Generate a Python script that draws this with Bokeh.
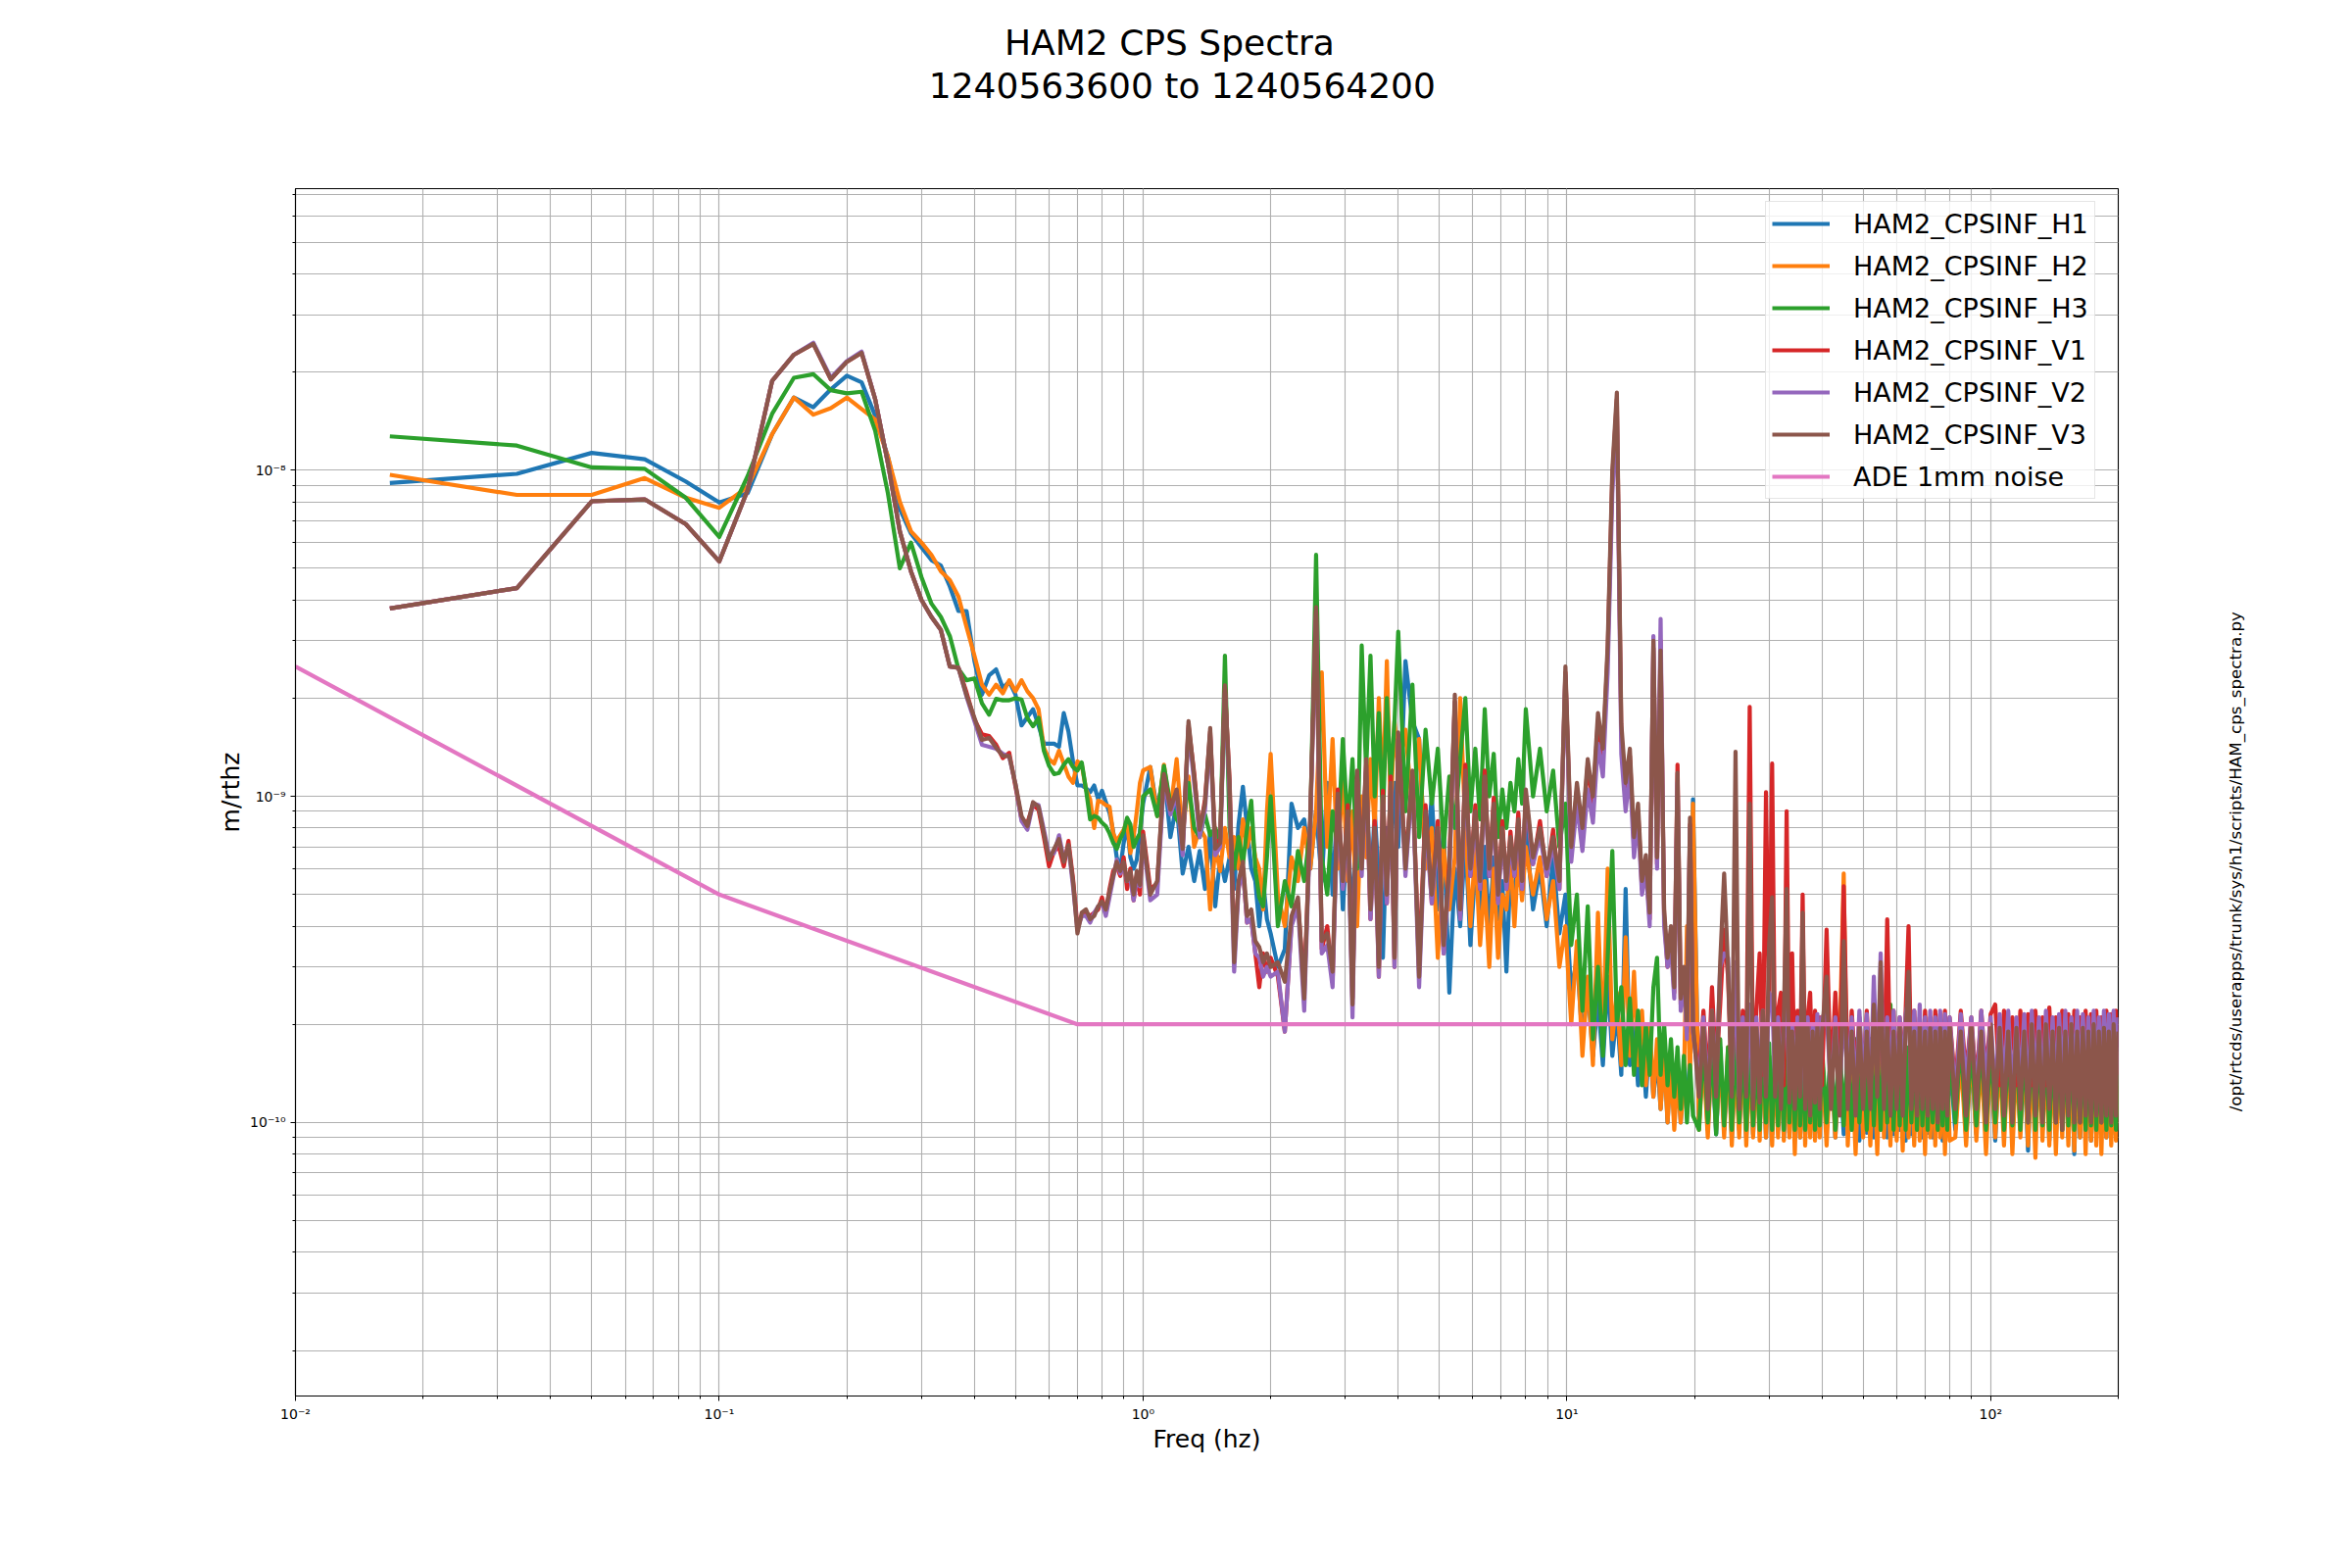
import numpy as np
from bokeh.plotting import figure
from bokeh.models import (Range1d, LogTicker, FixedTicker, CustomJSTickFormatter,
                          LinearAxis, Legend, LegendItem)
from bokeh.embed import file_html
from bokeh.resources import INLINE

# ---------------------------------------------------------------- data
# spectral values are given in units of 1e-10 m/rthz
UNIT = 1e-10

FREQ_LOW = [
    0.0167, 0.0333, 0.05, 0.0667, 0.0833, 0.1, 0.1167, 0.1333, 0.15, 0.1667,
    0.1833, 0.2, 0.2167, 0.2333, 0.25, 0.2667, 0.2833, 0.3, 0.3167, 0.3333,
    0.35, 0.3667, 0.3833, 0.4, 0.4167, 0.4333, 0.45, 0.4667, 0.4833, 0.5,
    0.5167, 0.5333, 0.55, 0.5667, 0.5833, 0.6, 0.6167, 0.6333, 0.65, 0.6667,
    0.6833, 0.7, 0.7167, 0.7333, 0.75, 0.7667, 0.7833, 0.8, 0.8167, 0.8333,
    0.85, 0.8667, 0.8833, 0.9, 0.9167, 0.9333, 0.95, 0.9667, 0.9833, 1.0]

FREQ_MID = [
    1.04, 1.08, 1.12, 1.16, 1.2, 1.24, 1.28, 1.32, 1.36, 1.4, 1.44, 1.48, 1.52,
    1.56, 1.6, 1.64, 1.68, 1.72, 1.76, 1.8, 1.84, 1.88, 1.92, 1.96, 2.0,
    2.08, 2.16, 2.24, 2.32, 2.4, 2.48, 2.56, 2.64, 2.72, 2.8, 2.88, 2.96, 3.04,
    3.12, 3.2, 3.28, 3.36, 3.44, 3.52, 3.6, 3.68, 3.76, 3.84, 3.92, 4.0,
    4.16, 4.32, 4.48, 4.64, 4.8, 4.96, 5.12, 5.28, 5.44, 5.6, 5.76, 5.92, 6.08,
    6.24, 6.4, 6.56, 6.72, 6.88, 7.04, 7.2, 7.36, 7.52, 7.68, 7.84, 8.0,
    8.32, 8.64, 8.96, 9.28, 9.6, 9.92, 10.24, 10.56, 10.88, 11.2, 11.52, 11.84,
    12.16, 12.48, 12.8, 13.12, 13.44, 13.76, 14.08, 14.4, 14.72, 15.04, 15.36,
    15.68, 16.0, 16.32, 16.64, 16.96, 17.28, 17.6, 17.92, 18.24, 18.56, 18.88,
    19.2, 19.52, 19.84]

FREQ_HIGH = [
    20.5, 21.0, 21.5, 22.0, 22.5, 23.0, 23.5, 24.0, 24.5, 25.0,
    25.5, 26.0, 26.5, 27.0, 27.5, 28.0, 28.5, 29.0, 29.5, 30.0,
    30.5, 31.0, 31.5, 32.0, 32.5, 33.0, 33.5, 34.0, 34.5, 35.0,
    35.5, 36.0, 36.5, 37.0, 37.5, 38.0, 38.5, 39.0, 39.5, 40.0,
    41, 42, 43, 44, 45, 46, 47, 48, 49, 50,
    51, 52, 53, 54, 55, 56, 57, 58, 59, 60,
    61, 62, 63, 64, 65, 66, 67, 68, 69, 70,
    71, 72, 73, 74, 75, 76, 77, 78, 79, 80,
    82.5, 85, 87.5, 90, 92.5, 95, 97.5, 100, 102.5, 105,
    107.5, 110, 112.5, 115, 117.5, 120, 122.5, 125, 127.5, 130,
    132.5, 135, 137.5, 140, 142.5, 145, 147.5, 150, 152.5, 155,
    157.5, 160, 162.5, 165, 167.5, 170, 172.5, 175, 177.5, 180,
    182.5, 185, 187.5, 190, 192.5, 195, 197.5, 200]

# ---- HAM2_CPSINF_H1
H1_LOW = [
    91.4, 97.5, 113, 108, 92.4, 79.6, 85, 129, 167, 156,
    177, 195, 186, 147, 110, 76, 64, 58, 53, 51,
    44, 37, 37, 26, 20.5, 23.5, 24.5, 21.5, 22.5, 20.5,
    16.5, 17.5, 18.5, 16.5, 14.5, 14.5, 14.5, 14.2, 18.0, 15.8,
    12.8, 10.8, 10.8, 10.6, 10.3, 10.8, 9.8, 10.4, 9.6, 8.9,
    7.8, 6.5, 6.0, 7.2, 8.2, 6.5, 6.0, 6.4, 7.8, 9.5]
H1_MID = [
    12.3, 9.0, 12.0, 7.5, 9.5, 5.8, 7.0, 5.5, 6.8, 5.2, 7.8, 4.6, 6.5,
    5.5, 6.5, 5.2, 8.2, 10.7, 8.0, 6.0, 5.5, 4.0, 5.5, 4.2, 3.8,
    3.0, 3.4, 9.5, 8.0, 8.5, 6.0, 9.0, 5.5, 11.0, 5.0, 10.0, 4.5, 8.0,
    4.0, 10.0, 6.0, 12.0, 5.0, 9.0, 5.5, 3.2, 8.0, 6.5, 11.0, 7.0,
    26.0, 17.0, 15.0, 6.0, 10.0, 4.5, 8.0, 2.5, 6.0, 4.0, 7.5, 3.5, 6.0,
    4.5, 7.0, 3.8, 6.5, 4.2, 5.5, 2.9, 6.0, 4.5, 7.5, 5.0, 8.0,
    4.5, 6.0, 4.0, 6.5, 3.8, 5.0, 2.5, 3.2, 1.8, 2.6, 1.6, 2.4,
    1.5, 2.8, 1.6, 2.2, 1.4, 5.2, 1.5, 2.0, 1.3, 1.9, 1.2,
    1.8, 1.2, 1.6, 1.1, 1.7, 1.0, 1.6, 1.0, 1.5, 1.0, 1.4,
    1.1, 1.6, 9.8]
H1_HIGH = [
    1.0, 1.7, 0.95, 1.6, 0.92, 1.7, 0.95, 1.6, 0.9, 1.7,
    0.95, 1.6, 0.9, 1.7, 0.92, 1.6, 0.95, 1.7, 0.9, 1.6,
    0.92, 1.7, 0.95, 1.6, 0.9, 1.7, 0.93, 1.6, 0.95, 1.7,
    0.9, 1.6, 0.92, 1.7, 0.95, 1.6, 0.9, 1.7, 0.93, 1.6,
    0.95, 1.7, 0.9, 1.6, 0.92, 1.7, 0.95, 1.6, 0.88, 1.7,
    0.93, 1.6, 0.9, 1.7, 0.95, 1.6, 0.9, 1.7, 0.92, 1.6,
    0.95, 1.7, 0.88, 1.6, 0.92, 1.7, 0.95, 1.6, 0.9, 1.7,
    0.93, 1.6, 0.9, 1.7, 0.95, 1.6, 0.88, 1.7, 0.92, 1.6,
    0.95, 1.7, 0.9, 1.6, 0.92, 1.7, 0.95, 1.6, 0.88, 1.7,
    0.93, 1.6, 0.9, 1.7, 0.95, 1.6, 0.82, 1.7, 0.92, 1.6,
    0.95, 1.7, 0.88, 1.6, 0.92, 1.7, 0.95, 1.6, 0.9, 1.7,
    0.8, 1.6, 0.9, 1.7, 0.95, 1.6, 0.88, 1.7, 0.92, 1.6,
    0.95, 1.7, 0.9, 1.6, 0.92, 1.7, 0.95, 1.6]

# ---- HAM2_CPSINF_H2
H2_LOW = [
    96.8, 84, 84, 94.6, 82.4, 76.7, 89, 129, 167, 148,
    155, 167, 154, 143, 110, 80, 65, 60, 55, 49,
    46, 41, 33, 27, 22, 20.5, 22, 20.7, 22.7, 21,
    22.7, 21, 20, 18.5, 14.1, 13, 12.6, 13.8, 12.6, 11.5,
    11, 12.8, 12.5, 10.5, 9.8, 8.0, 9.7, 9.6, 9.4, 9.3,
    7.7, 7.3, 7.6, 7.9, 8.4, 6.7, 7.5, 9.0, 11.0, 12.0]
H2_MID = [
    12.3, 8.7, 12.5, 9.0, 13.0, 7.5, 11.5, 7.0, 8.0, 7.5, 4.5, 7.0, 5.9,
    8.0, 6.5, 7.5, 6.0, 8.5, 7.0, 8.0, 6.5, 6.0, 4.5, 9.0, 13.5,
    5.0, 4.0, 6.5, 5.5, 8.0, 6.0, 9.0, 24.0, 7.0, 15.0, 6.0, 12.0, 5.5,
    9.0, 4.0, 10.0, 6.5, 13.0, 8.0, 20.0, 10.0, 26.0, 9.0, 17.0, 12.0,
    16.0, 9.0, 15.0, 6.0, 8.0, 3.2, 7.0, 4.5, 6.5, 20.0, 8.0, 4.0, 7.0,
    3.5, 5.5, 3.0, 6.0, 3.2, 5.0, 4.5, 6.5, 4.0, 6.5, 4.8, 7.0,
    5.0, 6.5, 4.2, 5.5, 3.0, 4.0, 2.0, 3.6, 1.6, 2.8, 1.5, 4.4,
    1.7, 6.0, 1.8, 2.5, 1.5, 3.7, 1.6, 2.9, 1.5, 2.2, 1.3,
    2.0, 1.2, 1.8, 1.1, 1.6, 1.0, 1.5, 0.95, 1.4, 1.0, 1.3,
    4.0, 1.2, 9.5]
H2_HIGH = [
    0.95, 1.6, 0.9, 1.7, 0.95, 1.6, 0.9, 1.7, 0.85, 1.6,
    0.9, 1.7, 0.85, 1.6, 0.9, 1.6, 0.88, 1.7, 0.9, 1.6,
    0.85, 1.6, 0.9, 1.7, 0.88, 1.6, 0.9, 1.65, 0.8, 1.6,
    0.9, 1.7, 0.85, 1.6, 0.9, 1.6, 0.88, 1.7, 0.9, 1.6,
    0.85, 1.6, 0.9, 1.7, 5.8, 0.85, 1.6, 0.8, 1.7, 0.9,
    1.6, 0.85, 1.6, 0.8, 1.7, 0.9, 1.6, 0.85, 1.65, 0.88,
    1.6, 0.82, 1.7, 0.9, 1.6, 0.85, 1.6, 0.88, 1.7, 0.8,
    1.6, 0.9, 1.65, 0.85, 1.6, 0.9, 1.7, 0.8, 1.6, 0.88,
    0.9, 1.6, 0.85, 1.7, 0.88, 1.6, 0.8, 1.65, 0.9, 1.6,
    0.85, 1.7, 0.8, 1.6, 0.9, 1.65, 0.85, 1.6, 0.78, 1.7,
    0.88, 1.6, 0.85, 1.65, 0.8, 1.6, 0.9, 1.7, 0.85, 1.6,
    0.82, 1.65, 0.9, 1.6, 0.8, 1.7, 0.88, 1.6, 0.85, 1.65,
    0.8, 1.6, 0.9, 1.7, 0.85, 1.6, 0.88, 1.65]

# ---- HAM2_CPSINF_H3
H3_LOW = [
    127, 119, 102, 101, 82.4, 62.4, 96, 149, 192, 197,
    176, 172, 174, 132, 85, 50, 60, 47, 39, 35.5,
    31, 24.6, 22.7, 23, 19.3, 17.8, 19.9, 19.7, 19.7, 20,
    19.8, 17.4, 16.4, 17.4, 13.8, 12.4, 11.7, 11.8, 12.5, 13,
    12.3, 12, 12.7, 10.5, 8.5, 8.7, 8.6, 8.3, 8.1, 7.7,
    7.2, 6.9, 7.4, 7.8, 8.6, 8.2, 7.0, 7.4, 7.7, 10.0]
H3_MID = [
    10.5, 8.7, 12.4, 9.5, 8.5, 8.0, 11.0, 8.0, 7.5, 8.8, 7.6, 8.0, 7.3,
    27.0, 8.0, 6.0, 7.5, 6.2, 8.0, 9.7, 6.0, 4.9, 4.6, 6.5, 10.0,
    4.0, 5.5, 4.6, 6.8, 5.5, 8.0, 55.0, 6.5, 5.0, 9.0, 7.0, 15.0, 8.0,
    13.0, 6.0, 29.0, 12.0, 27.0, 10.0, 18.0, 8.5, 20.0, 11.0, 17.0, 32.0,
    9.0, 22.0, 7.5, 16.0, 9.5, 14.0, 7.0, 11.5, 8.0, 13.0, 20.0, 9.0, 14.0,
    8.5, 18.5, 10.0, 13.5, 7.5, 10.5, 8.0, 11.0, 9.0, 13.0, 9.5, 18.5,
    10.0, 14.0, 9.0, 12.0, 7.0, 9.5, 3.5, 5.0, 2.2, 4.6, 1.8, 3.0,
    1.6, 3.2, 6.8, 2.0, 2.6, 1.5, 2.4, 1.4, 2.2, 1.3, 2.0,
    1.4, 2.6, 3.2, 1.4, 2.0, 1.3, 1.8, 1.2, 1.7, 1.1, 1.6,
    1.0, 1.5, 1.05]
H3_HIGH = [
    0.95, 1.8, 1.0, 1.75, 0.92, 1.8, 0.98, 1.7, 0.95, 1.8,
    1.0, 1.75, 0.95, 1.8, 0.98, 1.7, 0.95, 1.8, 1.0, 1.75,
    0.95, 1.8, 0.98, 1.7, 0.95, 1.8, 1.0, 1.75, 0.95, 1.8,
    0.98, 1.7, 0.95, 1.8, 1.0, 1.75, 0.95, 1.8, 0.98, 1.7,
    1.0, 1.75, 0.95, 1.8, 0.98, 1.7, 0.95, 1.8, 1.0, 1.75,
    0.95, 1.8, 0.98, 1.7, 0.95, 1.8, 1.0, 2.3, 0.95, 1.75,
    0.98, 1.8, 0.95, 1.7, 1.0, 1.8, 0.95, 1.75, 0.98, 1.8,
    0.95, 1.7, 1.0, 1.8, 0.95, 1.75, 0.98, 1.8, 0.95, 1.7,
    1.0, 1.8, 0.95, 1.75, 0.98, 1.8, 0.95, 1.7, 1.0, 1.8,
    0.95, 1.75, 0.98, 1.8, 0.95, 1.7, 1.0, 1.8, 0.95, 1.75,
    0.98, 1.8, 0.95, 1.7, 1.0, 1.8, 0.95, 1.75, 0.98, 1.8,
    0.95, 1.7, 1.0, 1.8, 0.95, 1.75, 0.98, 1.8, 0.95, 1.7,
    1.0, 1.8, 0.95, 1.75, 0.98, 1.8, 0.95, 1.7]

# ---- HAM2_CPSINF_V1
V1_LOW = [
    37.7, 43.5, 80.3, 81.4, 68.4, 52.5, 87, 188, 226, 244,
    190, 215, 229, 165, 105, 65, 49, 40, 35.5, 32.4,
    25, 24.8, 20.8, 17.2, 15.5, 15.3, 14.4, 13.1, 13.6, 10.7,
    8.5, 8.3, 9.4, 9.1, 7.5, 6.1, 6.8, 7.0, 6.1, 7.3,
    5.6, 4.0, 4.3, 4.4, 4.3, 4.4, 4.5, 4.9, 4.4, 5.2,
    5.9, 6.1, 5.7, 6.5, 5.2, 6.0, 4.8, 5.7, 5.0, 7.8]
V1_MID = [
    5.2, 5.4, 11.5, 9.3, 10.3, 7.1, 16.5, 11.8, 7.7, 9.8, 15.8, 7.1, 7.4,
    21.5, 11.2, 3.4, 5.3, 6.0, 4.1, 4.2, 3.3, 2.6, 3.3, 2.9, 3.2,
    2.8, 1.9, 4.1, 4.7, 2.6, 8.4, 37.0, 3.4, 4.0, 2.7, 10.5, 5.3, 9.4,
    2.4, 11.5, 6.3, 12.5, 4.2, 8.4, 2.8, 10.4, 4.7, 11.5, 3.0, 15.0,
    6.3, 11.5, 3.0, 9.4, 4.7, 8.4, 3.3, 6.3, 19.5, 4.3, 12.5, 5.7, 9.4,
    5.2, 12.0, 5.7, 9.9, 4.8, 8.4, 5.2, 7.8, 5.7, 8.9, 5.2, 10.0,
    6.2, 8.4, 5.7, 7.9, 5.2, 24.0, 6.7, 10.5, 7.6, 12.5, 9.5, 17.0,
    13.3, 27.5, 95.0, 165.0, 15.5, 10.5, 13.3, 7.1, 9.0, 5.2, 6.3,
    4.2, 28.5, 6.2, 30.0, 4.3, 3.0, 3.8, 2.5, 12.5, 2.3, 2.9,
    1.9, 8.2, 1.9]
V1_HIGH = [
    1.4, 2.2, 1.3, 2.6, 1.4, 2.3, 3.9, 2.8, 1.3, 3.0,
    1.3, 2.2, 1.4, 18.8, 1.3, 2.2, 3.3, 1.4, 10.3, 2.2,
    12.6, 1.4, 2.2, 2.5, 1.3, 9.0, 1.4, 3.3, 1.3, 2.2,
    1.4, 5.0, 1.3, 2.1, 2.5, 1.3, 2.2, 1.4, 2.1, 1.3,
    3.9, 1.3, 2.5, 1.4, 5.3, 1.3, 2.2, 1.4, 2.1, 1.3,
    2.2, 1.3, 2.1, 1.4, 2.2, 1.3, 4.2, 1.4, 2.2, 1.3,
    2.1, 1.4, 2.2, 4.0, 1.3, 2.2, 1.4, 2.1, 1.3, 2.2,
    1.4, 2.1, 1.3, 2.2, 1.4, 2.15, 1.3, 2.2, 1.4, 2.1,
    1.3, 2.2, 1.4, 2.1, 1.3, 2.2, 1.4, 2.15, 2.3, 1.3,
    2.2, 1.4, 2.1, 1.3, 2.2, 1.4, 2.15, 1.3, 2.2, 1.4,
    2.1, 1.3, 2.25, 1.4, 2.1, 1.3, 2.2, 1.4, 2.15, 1.3,
    2.2, 1.4, 2.1, 1.3, 2.2, 1.4, 2.15, 1.3, 2.2, 1.4,
    2.1, 1.3, 2.2, 1.4, 2.15, 1.3, 2.2, 1.4]

# ---- HAM2_CPSINF_V2
V2_LOW = [
    37.7, 43.5, 80.3, 81.4, 68.4, 52.5, 87, 188, 226, 246,
    192, 216, 231, 165, 105, 65, 49, 40, 35.5, 32.4,
    25, 24.8, 20.2, 17.0, 14.4, 14.2, 14.0, 13.5, 13.2, 10.9,
    8.4, 7.9, 9.5, 9.4, 7.9, 6.6, 6.7, 7.6, 6.4, 7.0,
    5.3, 3.9, 4.3, 4.3, 4.1, 4.4, 4.6, 4.7, 4.3, 4.9,
    5.6, 6.4, 5.8, 6.1, 5.5, 5.6, 4.8, 5.6, 5.3, 7.3]
V2_MID = [
    4.8, 5.0, 11.2, 8.8, 10.1, 6.6, 16.2, 11.0, 7.5, 9.1, 15.5, 6.6, 7.0,
    20.8, 10.4, 2.9, 5.2, 6.0, 4.1, 4.2, 3.3, 3.2, 2.8, 3.0, 2.8,
    2.9, 1.9, 4.0, 4.6, 2.2, 8.2, 36.0, 3.3, 3.5, 2.6, 9.7, 5.2, 8.6,
    2.1, 11.3, 5.7, 12.3, 4.2, 7.6, 2.8, 9.5, 4.7, 10.5, 3.0, 14.9,
    5.7, 11.3, 2.6, 8.5, 4.7, 7.6, 3.3, 5.7, 19.4, 4.2, 11.4, 5.7, 8.5,
    5.2, 10.9, 5.7, 9.0, 4.7, 7.6, 5.2, 7.1, 5.7, 8.1, 5.2, 10.0,
    6.2, 7.6, 5.7, 7.1, 5.2, 23.5, 6.3, 9.5, 6.8, 10.5, 8.3, 14.5,
    11.5, 24.0, 85.0, 150.0, 13.5, 9.0, 12.0, 6.5, 8.5, 5.0, 6.0,
    4.0, 31.0, 6.0, 35.0, 4.0, 3.0, 3.5, 2.4, 11.0, 2.2, 2.8,
    1.8, 8.0, 1.9]
V2_HIGH = [
    1.3, 2.1, 1.2, 2.2, 1.3, 3.0, 3.3, 3.2, 1.3, 3.1,
    1.2, 2.1, 1.3, 2.3, 1.2, 2.1, 1.3, 2.2, 1.3, 2.5,
    2.4, 1.3, 2.1, 1.2, 2.1, 2.4, 1.3, 2.0, 1.2, 2.1,
    1.3, 2.3, 1.2, 2.1, 1.2, 2.0, 1.3, 2.15, 1.2, 2.1,
    2.2, 1.2, 2.1, 1.2, 2.3, 1.3, 2.1, 1.2, 2.2, 1.3,
    2.15, 1.2, 2.8, 1.3, 3.3, 1.2, 2.1, 1.3, 2.2, 1.2,
    2.1, 1.3, 2.15, 2.4, 1.2, 2.2, 1.3, 2.3, 1.2, 2.1,
    1.3, 2.2, 1.2, 2.1, 1.3, 2.2, 1.2, 2.15, 1.3, 2.1,
    1.2, 2.15, 1.3, 2.1, 1.2, 2.2, 1.3, 2.1, 1.2, 2.15,
    1.3, 2.2, 1.2, 2.1, 1.3, 2.15, 1.2, 2.2, 1.3, 2.1,
    1.2, 2.2, 1.3, 2.1, 1.2, 2.15, 1.3, 2.2, 1.2, 2.1,
    1.3, 2.2, 1.2, 2.15, 1.3, 2.1, 1.2, 2.2, 1.3, 2.1,
    1.2, 2.2, 1.3, 2.15, 1.2, 2.2, 1.3, 2.1]

# ---- HAM2_CPSINF_V3
V3_LOW = [
    37.7, 43.5, 80.3, 81.4, 68.4, 52.5, 87, 188, 226, 244,
    190, 215, 229, 165, 105, 65, 49, 40, 35.5, 32.4,
    25, 24.8, 20.4, 17.4, 14.9, 15.1, 14.1, 13.3, 13.3, 10.9,
    8.7, 8.1, 9.6, 9.3, 7.7, 6.4, 6.9, 7.4, 6.3, 7.1,
    5.5, 3.8, 4.4, 4.5, 4.2, 4.3, 4.6, 4.76, 4.5, 5.1,
    5.7, 6.3, 5.9, 6.3, 5.5, 5.9, 5.0, 5.9, 5.35, 7.6]
V3_MID = [
    5.0, 5.5, 11.7, 9.1, 10.5, 6.9, 17.0, 11.5, 7.9, 9.5, 16.2, 6.9, 7.2,
    21.9, 10.9, 3.1, 5.5, 6.3, 4.3, 4.5, 3.6, 3.45, 3.1, 3.3, 3.0,
    3.1, 2.7, 4.3, 4.9, 2.4, 8.7, 38.0, 3.6, 3.8, 2.9, 10.2, 5.5, 9.0,
    2.3, 12.0, 6.0, 13.0, 4.5, 8.0, 3.0, 10.0, 5.0, 11.0, 3.2, 15.7,
    6.0, 12.0, 2.8, 9.0, 5.0, 8.0, 3.5, 6.0, 20.5, 4.5, 12.0, 6.0, 9.0,
    5.5, 11.5, 6.0, 9.5, 5.0, 8.0, 5.5, 7.5, 6.0, 8.5, 5.5, 10.5,
    6.5, 8.0, 6.0, 7.5, 5.5, 25.0, 7.0, 11.0, 8.0, 13.0, 10.0, 18.0,
    14.0, 29.0, 100.0, 173.0, 16.7, 11.0, 14.0, 7.5, 9.5, 5.5, 6.6,
    4.4, 30.0, 6.5, 28.0, 4.5, 3.2, 4.0, 2.6, 11.8, 2.4, 3.0,
    2.0, 8.6, 2.0]
V3_HIGH = [
    1.2, 2.0, 1.1, 2.2, 1.2, 3.1, 5.8, 3.0, 1.2, 13.7,
    1.1, 2.0, 1.2, 9.5, 1.1, 2.0, 1.15, 2.2, 1.2, 3.5,
    4.9, 1.2, 2.0, 1.1, 2.1, 5.2, 1.15, 1.9, 1.1, 2.0,
    1.2, 4.4, 1.1, 2.0, 1.05, 1.9, 1.15, 2.0, 1.1, 1.9,
    2.8, 1.1, 2.0, 1.05, 3.6, 1.1, 1.9, 1.05, 2.0, 1.1,
    1.9, 1.1, 2.3, 1.2, 3.1, 1.1, 2.0, 1.05, 1.9, 1.1,
    2.0, 1.05, 1.9, 2.9, 1.1, 1.9, 1.05, 2.0, 1.1, 1.9,
    1.05, 1.95, 1.1, 1.9, 1.0, 1.95, 1.1, 1.9, 1.05, 2.0,
    1.1, 1.9, 1.05, 2.0, 1.1, 1.9, 1.0, 2.0, 1.1, 1.95,
    1.05, 1.9, 1.0, 1.95, 1.1, 1.9, 1.0, 2.0, 1.05, 1.9,
    1.0, 2.0, 1.1, 1.9, 1.0, 1.95, 0.95, 1.9, 1.05, 2.0,
    1.0, 1.9, 1.0, 1.95, 1.05, 1.9, 1.0, 2.0, 1.05, 1.9,
    1.0, 1.95, 1.05, 1.9, 1.0, 2.0, 1.05, 1.9]

# ---- ADE 1mm noise (m/rthz)
ADE_FREQ = [0.01, 0.1, 0.7, 100.0]
ADE_VAL = [2.5e-9, 5e-10, 2e-10, 2e-10]

NAMES = ["HAM2_CPSINF_H1", "HAM2_CPSINF_H2", "HAM2_CPSINF_H3",
         "HAM2_CPSINF_V1", "HAM2_CPSINF_V2", "HAM2_CPSINF_V3"]
SERIES = [(H1_LOW, H1_MID, H1_HIGH), (H2_LOW, H2_MID, H2_HIGH),
          (H3_LOW, H3_MID, H3_HIGH), (V1_LOW, V1_MID, V1_HIGH),
          (V2_LOW, V2_MID, V2_HIGH), (V3_LOW, V3_MID, V3_HIGH)]
COLORS = ["#1f77b4", "#ff7f0e", "#2ca02c", "#d62728", "#9467bd", "#8c564b"]
ADE_COLOR = "#e377c2"

TITLE_1 = "HAM2 CPS Spectra"
TITLE_2 = "1240563600 to 1240564200"
SCRIPT_PATH = "/opt/rtcds/userapps/trunk/sys/h1/scripts/HAM_cps_spectra.py"

FREQ = FREQ_LOW + FREQ_MID + FREQ_HIGH
for name, (lo, mi, hi) in zip(NAMES, SERIES):
    assert len(lo) == len(FREQ_LOW), (name, "low", len(lo))
    assert len(mi) == len(FREQ_MID), (name, "mid", len(mi))
    assert len(hi) == len(FREQ_HIGH), (name, "high", len(hi))

# ---------------------------------------------------------------- figure
FONT = "DejaVu Sans"
LW = 4.2
p = figure(width=2384, height=1584, x_axis_type="log", y_axis_type="log",
           x_range=Range1d(0.01, 200), y_range=Range1d(1.45e-11, 7.3e-8),
           output_backend="svg", toolbar_location=None,
           min_border_left=301, min_border_right=223,
           min_border_top=192, min_border_bottom=160)
p.background_fill_color = "white"
p.border_fill_color = "white"
p.outline_line_color = "black"
p.outline_line_width = 1.1

# main axes (captured before any extra axes are added)
x_axis = p.below[0]
y_axis = p.left[0]
x_grid = p.xgrid[0]
y_grid = p.ygrid[0]

xt = LogTicker(mantissas=[1], num_minor_ticks=10)
yt = LogTicker(mantissas=[1], num_minor_ticks=10)
x_axis.ticker = xt
y_axis.ticker = yt
x_grid.ticker = xt
y_grid.ticker = yt

fmt = CustomJSTickFormatter(code="""
const sup = {'-': '\u207b', '0': '\u2070', '1': '\u00b9', '2': '\u00b2',
             '3': '\u00b3', '4': '\u2074', '5': '\u2075', '6': '\u2076',
             '7': '\u2077', '8': '\u2078', '9': '\u2079'};
const e = Math.round(Math.log10(tick));
return '10' + String(e).split('').map(c => sup[c]).join('');
""")
for ax in (x_axis, y_axis):
    ax.formatter = fmt
    ax.major_label_text_font = FONT
    ax.major_label_text_font_size = "14px"
    ax.major_label_text_color = "black"
    ax.axis_line_color = "black"
    ax.axis_line_width = 1.1
    ax.major_tick_line_color = "black"
    ax.minor_tick_line_color = "black"
    ax.major_tick_out = 5
    ax.major_tick_in = 0
    ax.minor_tick_out = 3
    ax.minor_tick_in = 0
    ax.major_label_standoff = 5
    ax.axis_label_text_font = FONT
    ax.axis_label_text_font_size = "25px"
    ax.axis_label_text_font_style = "normal"
    ax.axis_label_text_color = "black"
x_axis.axis_label = "Freq (hz)"
y_axis.axis_label = "m/rthz"
x_axis.axis_label_standoff = 0
y_axis.axis_label_standoff = 2

for g in (x_grid, y_grid):
    g.grid_line_color = "#b0b0b0"
    g.grid_line_width = 1.1
    g.minor_grid_line_color = "#b0b0b0"
    g.minor_grid_line_width = 1.1


def text_axis(text, at, standoff, size, **extra):
    """An axis used only to carry one text line (no line, no ticks)."""
    return LinearAxis(
        ticker=FixedTicker(ticks=[at], minor_ticks=[]),
        formatter=CustomJSTickFormatter(code="return %r;" % text),
        major_tick_line_color=None, minor_tick_line_color=None,
        major_tick_out=0, major_tick_in=0, minor_tick_out=0, minor_tick_in=0,
        axis_line_color=None, major_label_standoff=standoff,
        major_label_text_font=FONT, major_label_text_font_size=size,
        major_label_text_color="black", **extra)


# two-line title, each line centred on its own position (x in Hz units)
p.add_layout(text_axis(TITLE_2, 1.237, 85, "36px"), "above")
p.add_layout(text_axis(TITLE_1, 1.155, 0, "36px"), "above")

# script path note at the right side, reading bottom-to-top
p.add_layout(text_axis(SCRIPT_PATH, 1.08e-10, 120, "16.7px",
                       major_label_orientation=np.pi / 2), "right")

items = []
for name, (lo, mi, hi), col in zip(NAMES, SERIES, COLORS):
    vals = [v * UNIT for v in (lo + mi + hi)]
    r = p.line(FREQ, vals, line_color=col, line_width=LW, line_join="round")
    items.append(LegendItem(label=name, renderers=[r]))
r_ade = p.line(ADE_FREQ, ADE_VAL, line_color=ADE_COLOR, line_width=LW,
               line_join="round")
items.append(LegendItem(label="ADE 1mm noise", renderers=[r_ade]))

legend = Legend(items=items, location=(1500, 915), margin=0,
                label_text_font=FONT, label_text_font_size="27px",
                label_text_color="black",
                glyph_width=59, glyph_height=32, label_height=32,
                spacing=11, padding=6, label_standoff=24,
                border_line_color="#cccccc", border_line_width=1,
                background_fill_color="white", background_fill_alpha=0.8)
p.add_layout(legend)

open("out.html", "w").write(file_html(p, INLINE))
